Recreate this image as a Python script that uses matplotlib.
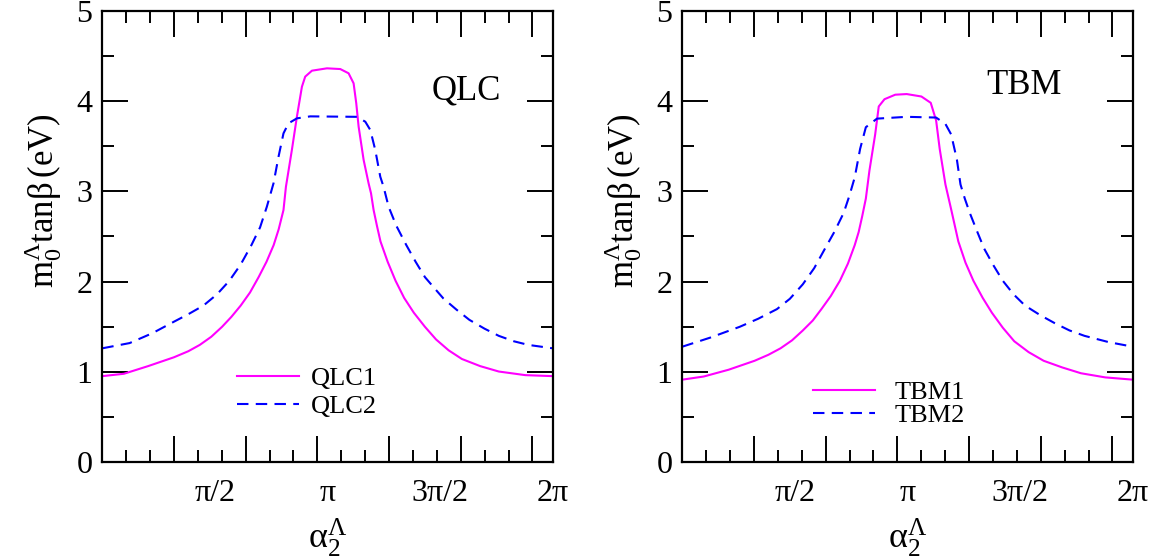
import numpy as np
import matplotlib
matplotlib.use("Agg")
import matplotlib.pyplot as plt
from matplotlib.ticker import MultipleLocator

plt.rcParams["font.family"] = ["Liberation Serif", "DejaVu Serif"]
plt.rcParams["mathtext.fontset"] = "custom"
plt.rcParams["mathtext.rm"] = "Liberation Serif"
plt.rcParams["mathtext.it"] = "Liberation Serif"

TWO_PI = 2 * np.pi

# QLC panel (x in radians)
qlc1_x = [0, 0.3, 0.639, 1.0, 1.2, 1.36, 1.52, 1.67, 1.8, 1.93, 2.06, 2.18, 2.29, 2.39, 2.46,
          2.527, 2.561, 2.644, 2.714, 2.784, 2.83, 2.924, 3.133, 3.319, 3.435, 3.505, 3.542,
          3.575, 3.645, 3.714, 3.748, 3.784, 3.83, 3.88, 3.98, 4.09, 4.21, 4.345, 4.5, 4.655,
          4.83, 5.015, 5.27, 5.53, 5.9, TWO_PI]
qlc1_y = [0.954, 0.98, 1.065, 1.163, 1.23, 1.30, 1.39, 1.50, 1.61, 1.735, 1.88, 2.05, 2.22, 2.405, 2.58,
          2.793, 3.05, 3.458, 3.826, 4.158, 4.27, 4.336, 4.362, 4.354, 4.307, 4.196, 3.975,
          3.716, 3.347, 3.089, 2.978, 2.793, 2.62, 2.445, 2.22, 2.01, 1.82, 1.656, 1.50, 1.36,
          1.24, 1.144, 1.065, 1.005, 0.965, 0.954]
qlc2_x = [0, 0.381, 0.7, 1.0, 1.2, 1.41, 1.6, 1.772, 1.93, 2.08, 2.2, 2.295, 2.388, 2.458, 2.527,
          2.597, 2.714, 2.9, 3.552, 3.668, 3.738, 3.807, 3.877, 3.923, 3.993, 4.1, 4.24, 4.37,
          4.50, 4.63, 4.757, 4.94, 5.12, 5.33, 5.53, 5.74, 5.94, TWO_PI]
qlc2_y = [1.262, 1.32, 1.43, 1.557, 1.64, 1.735, 1.86, 2.01, 2.19, 2.405, 2.6, 2.83, 3.089, 3.384, 3.642,
          3.753, 3.808, 3.83, 3.825, 3.771, 3.679, 3.458, 3.162, 3.05, 2.83, 2.62, 2.405, 2.22,
          2.05, 1.93, 1.814, 1.69, 1.577, 1.48, 1.40, 1.34, 1.30, 1.262]

# TBM panel
tbm1_x = [0, 0.3, 0.646, 1.008, 1.2, 1.37, 1.53, 1.68, 1.82, 1.94, 2.07, 2.198, 2.31, 2.405, 2.46,
          2.508, 2.56, 2.61, 2.69, 2.74, 2.82, 2.97, 3.13, 3.335, 3.465, 3.54, 3.59, 3.67, 3.75,
          3.85, 3.95, 4.06, 4.19, 4.318, 4.47, 4.63, 4.83, 5.04, 5.3, 5.56, 5.9, TWO_PI]
tbm1_y = [0.915, 0.95, 1.025, 1.124, 1.19, 1.262, 1.35, 1.459, 1.57, 1.696, 1.84, 2.01, 2.2, 2.405, 2.55,
          2.72, 2.92, 3.23, 3.63, 3.94, 4.02, 4.07, 4.077, 4.05, 3.98, 3.785, 3.47, 3.076, 2.80,
          2.445, 2.21, 2.01, 1.82, 1.656, 1.49, 1.34, 1.22, 1.124, 1.05, 0.986, 0.94, 0.915]
tbm2_x = [0, 0.388, 0.80, 1.06, 1.32, 1.5, 1.68, 1.84, 1.99, 2.12, 2.25, 2.33, 2.405, 2.48, 2.56,
          2.715, 3.13, 3.54, 3.67, 3.75, 3.83, 3.88, 3.94, 4.01, 4.11, 4.21, 4.34, 4.47, 4.62,
          4.78, 4.99, 5.20, 5.4, 5.61, 5.95, TWO_PI]
tbm2_y = [1.28, 1.38, 1.50, 1.59, 1.696, 1.81, 1.97, 2.15, 2.366, 2.55, 2.76, 2.95, 3.155, 3.47, 3.71,
          3.805, 3.825, 3.817, 3.746, 3.63, 3.35, 3.076, 2.92, 2.76, 2.56, 2.366, 2.18, 2.01, 1.86,
          1.735, 1.63, 1.538, 1.46, 1.40, 1.33, 1.28]

pi_ticks = [np.pi / 2, np.pi, 3 * np.pi / 2, TWO_PI]
pi_labels = ["π/2", "π", "3π/2", "2π"]

# name, series1, series2, label position, legend anchor, legend spacing, text pad
panels = [
    ("QLC", (qlc1_x, qlc1_y, "QLC1"), (qlc2_x, qlc2_y, "QLC2"), (0.808, 0.822), (0.30, 0.155), 0.17, 0.42),
    ("TBM", (tbm1_x, tbm1_y, "TBM1"), (tbm2_x, tbm2_y, "TBM2"), (0.759, 0.834), (0.29, 0.129), -0.02, 0.75),
]

fig = plt.figure(figsize=(11.63, 5.58), dpi=100)
lefts = [102.3 / 1163, 682.3 / 1163]
width = 450.5 / 1163
bottom = 1 - 462.3 / 558
height = 451.6 / 558

for left, (name, s1, s2, txt_pos, leg_pos, leg_sp, leg_pad) in zip(lefts, panels):
    ax = fig.add_axes([left, bottom, width, height])
    ax.plot(s1[0], s1[1], color="#ff00ff", lw=1.5, label=s1[2])
    ax.plot(s2[0], s2[1], color="#0000ff", lw=1.5, dashes=(5.5, 3.5), label=s2[2])

    ax.set_xlim(0, TWO_PI)
    ax.set_ylim(0, 5)
    # ticks in radians (major every 1 rad), labels at multiples of pi
    ax.xaxis.set_major_locator(MultipleLocator(1))
    ax.xaxis.set_minor_locator(MultipleLocator(1 / 3))
    ax.yaxis.set_major_locator(MultipleLocator(1))
    ax.yaxis.set_minor_locator(MultipleLocator(0.5))
    ax.tick_params(which="both", direction="in", top=True, right=True, width=1.4)
    ax.tick_params(which="major", length=18.7)
    ax.tick_params(which="minor", length=8.6)
    ax.tick_params(axis="x", labelbottom=False)
    ax.tick_params(axis="y", labelsize=23, pad=7)
    for sp in ax.spines.values():
        sp.set_linewidth(1.6)

    sec = ax.secondary_xaxis("bottom")
    sec.set_xticks(pi_ticks, pi_labels)
    sec.tick_params(length=0, labelsize=23, pad=12)
    sec.spines["bottom"].set_visible(False)

    ax.set_ylabel(r"$\mathrm{m_0^{\Lambda}tan\beta\,(eV)}$", fontsize=25)
    ax.yaxis.set_label_coords(-0.085, 0.58)
    ax.set_xlabel(r"$\mathrm{\alpha_2^{\Lambda}}$", fontsize=26, va="top")
    ax.xaxis.set_label_coords(0.5, -0.12)

    ax.text(txt_pos[0], txt_pos[1], name, transform=ax.transAxes, fontsize=25,
            ha="center", va="center")
    ax.legend(loc="center left", bbox_to_anchor=leg_pos, frameon=False, fontsize=19,
              handlelength=2.35, handletextpad=leg_pad, labelspacing=leg_sp, borderpad=0,
              borderaxespad=0)

fig.savefig("out.png", dpi=100)
